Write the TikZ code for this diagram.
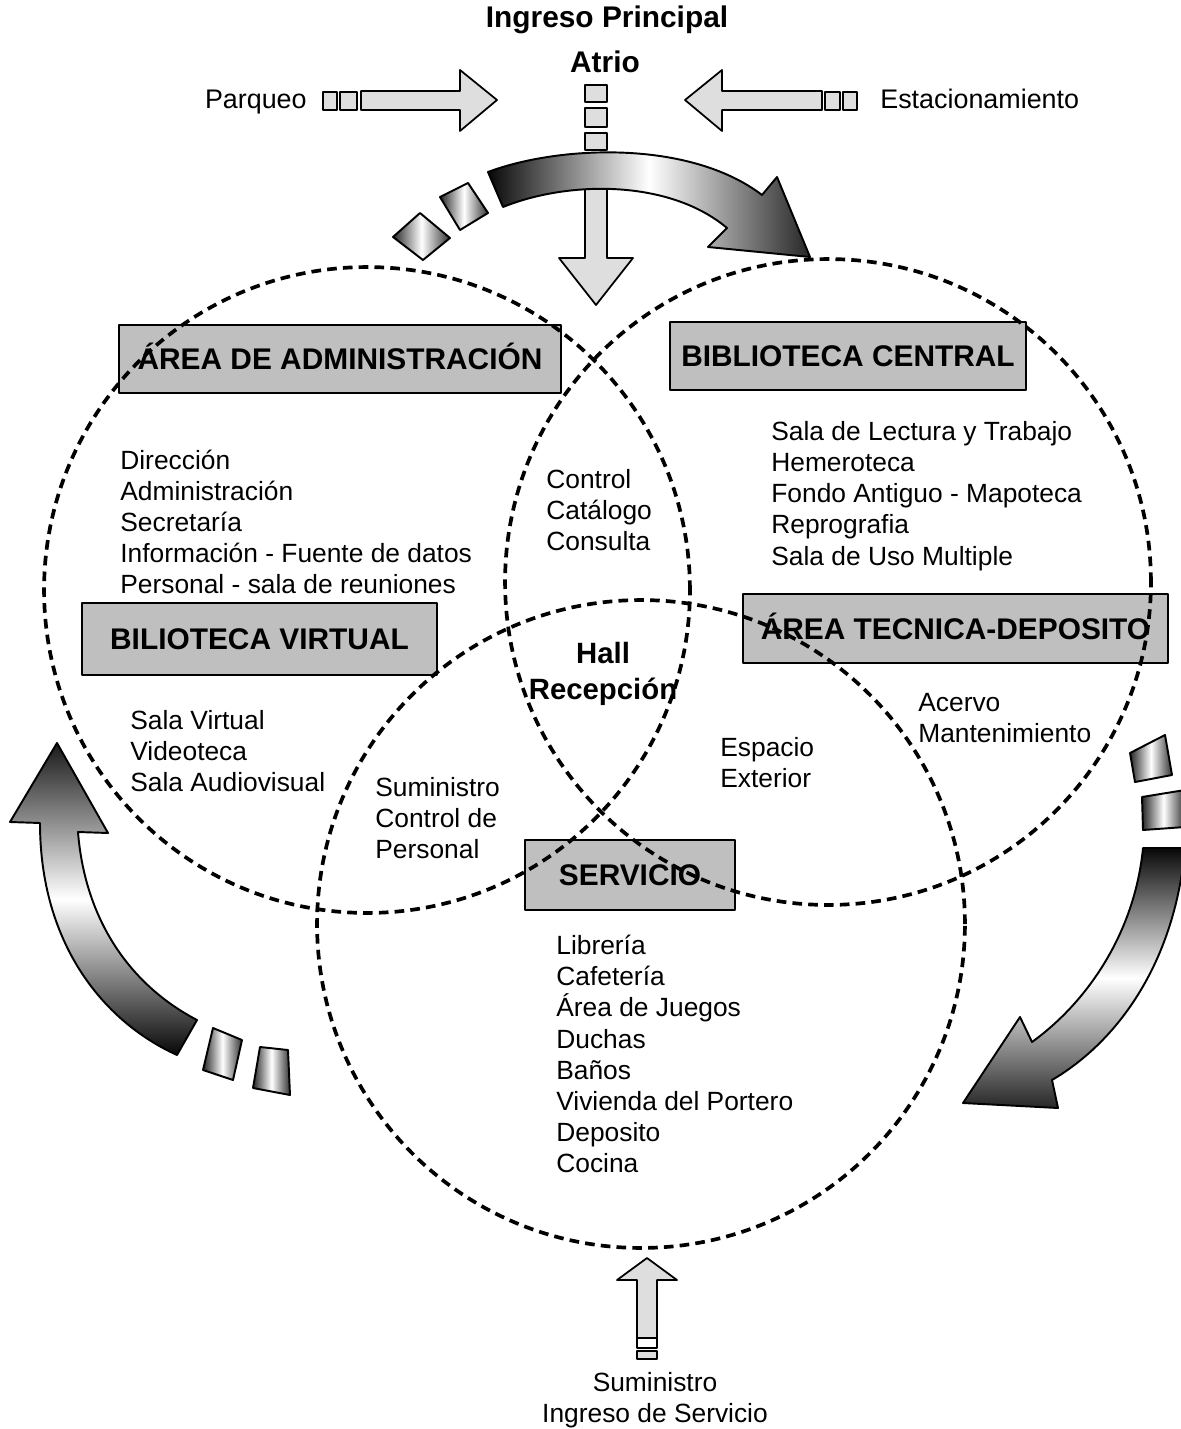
\documentclass[tikz,border=0pt]{standalone}
\usepackage{fontspec}
\setmainfont{Liberation Sans}
\begin{document}
\begin{tikzpicture}[x=0.02cm, y=-0.02cm, line join=round,
    zone/.style={circle, draw, line width=2.1pt, dash pattern=on 5.5pt off 3.5pt, inner sep=0pt},
    area/.style={draw, line width=1.1pt, fill=black!25, inner sep=0pt, text height=12.2pt, text depth=0pt,
      font=\fontsize{17}{20}\selectfont\bfseries},
    lst/.style={inner sep=0pt, anchor=west, align=left, font=\fontsize{15}{17.7}\selectfont},
    ttl/.style={inner sep=0pt, align=center, font=\fontsize{17}{20}\selectfont\bfseries},
    side/.style={inner sep=0pt, font=\fontsize{15.3}{18}\selectfont},
    blk/.style={draw, line width=1pt, fill=black!13},
    grad/.style={draw, line width=1.1pt}]
  \useasboundingbox (0,0) rectangle (1180,1429);
  \node[ttl] (ingreso) at (607,20) {Ingreso Principal};
  \node[ttl] (atrio) at (605,62) {Atrio};
  \node[side, anchor=base east] (parqueo) at (307,109) {Parqueo};
  \node[side, anchor=base west] (estac) at (880,109) {Estacionamiento};
  \draw[blk] (323,92) rectangle (337,110);
  \draw[blk] (340,92) rectangle (357,110);
  \draw[blk] (361,91) -- (460,91) -- (460,70) -- (497,100) -- (460,131) -- (460,110) -- (361,110) -- cycle;
  \draw[blk] (843,92) rectangle (857,110);
  \draw[blk] (825,92) rectangle (840,110);
  \draw[blk] (822,91) -- (722,91) -- (722,70) -- (685,100) -- (722,131) -- (722,110) -- (822,110) -- cycle;
  \draw[blk] (585,85) rectangle (607,102);
  \draw[blk] (585,108) rectangle (607,127);
  \draw[blk] (585,133) rectangle (607,150);
  \draw[blk] (585,154) -- (607,154) -- (607,258) -- (633,258) -- (596,305) -- (559,258) -- (585,258) -- cycle;
  \draw[grad, left color=black!97, right color=black!85, middle color=white]
    (488,172) .. controls (560,145) and (690,140) .. (762,195) -- (777,177) -- (810,257)
    -- (708,247) -- (727,228) .. controls (670,180) and (570,180) .. (503,207) -- cycle;
  \draw[grad, left color=black!85, right color=black!80, middle color=white]
    (393,237) -- (420,213) -- (450,238) -- (423,260) -- cycle;
  \draw[grad, left color=black!85, right color=black!80, middle color=white]
    (440,197) -- (468,183) -- (488,213) -- (460,230) -- cycle;
  \draw[grad, top color=black!90, bottom color=black!97, middle color=white]
    (57,743) -- (108,833) -- (78,832) .. controls (85,920) and (130,985) .. (197,1020)
    -- (177,1055) .. controls (100,1020) and (40,940) .. (40,823) -- (10,822) -- cycle;
  \draw[grad, left color=black!85, right color=black!80, middle color=white]
    (213,1028) -- (242,1040) -- (233,1080) -- (203,1070) -- cycle;
  \draw[grad, left color=black!85, right color=black!80, middle color=white]
    (260,1047) -- (288,1050) -- (290,1095) -- (253,1088) -- cycle;
  \draw[grad, left color=black!85, right color=black!80, middle color=white]
    (1130,753) -- (1165,735) -- (1172,775) -- (1135,782) -- cycle;
  \draw[grad, left color=black!85, right color=black!80, middle color=white]
    (1142,797) -- (1185,790) -- (1185,827) -- (1143,830) -- cycle;
  \draw[grad, top color=black!97, bottom color=black!85, middle color=white]
    (1143,848) -- (1185,848) .. controls (1175,960) and (1120,1040) .. (1052,1080)
    -- (1058,1108) -- (963,1103) -- (1020,1017) -- (1032,1042)
    .. controls (1090,1000) and (1135,930) .. (1143,848) -- cycle;
  \draw[blk] (637,1338) -- (637,1280) -- (617,1280) -- (647,1258) -- (677,1280) -- (657,1280) -- (657,1338) -- cycle;
  \draw[blk, fill=white] (637,1338) rectangle (657,1348);
  \draw[blk] (637,1351) rectangle (657,1359);
  \node[area, minimum width=8.84cm, minimum height=1.36cm] (adm) at (340,359) {ÁREA DE ADMINISTRACIÓN};
  \node[area, minimum width=7.12cm, minimum height=1.36cm] (bibc) at (848,356) {BIBLIOTECA CENTRAL};
  \node[area, minimum width=7.10cm, minimum height=1.44cm] (bibv) at (259.5,639) {BILIOTECA VIRTUAL};
  \node[area, minimum width=8.50cm, minimum height=1.38cm] (tec) at (955.5,628.5) {ÁREA TECNICA-DEPOSITO};
  \node[area, minimum width=4.20cm, minimum height=1.40cm] (serv) at (630,875) {SERVICIO};
  \node[zone, minimum size=12.92cm] (cAdm) at (367,590) {};
  \node[zone, minimum size=12.92cm] (cBib) at (828,582) {};
  \node[zone, minimum size=12.96cm] (cServ) at (641,924) {};
  \node[lst] (admL) at (120,522) {Dirección\\Administración\\Secretaría\\Información - Fuente de datos\\Personal - sala de reuniones};
  \node[lst] (ctrl) at (546,510) {Control\\Catálogo\\Consulta};
  \node[lst] (bibL) at (771,496) {Sala de Lectura y Trabajo\\Hemeroteca\\Fondo Antiguo - Mapoteca\\Reprografia\\Sala de Uso Multiple};
  \node[inner sep=0pt, align=center, font=\fontsize{16.7}{20.4}\selectfont\bfseries] (hall) at (603,674) {Hall\\Recepción};
  \node[lst] (virL) at (130,751) {Sala Virtual\\Videoteca\\Sala Audiovisual};
  \node[lst] (tecL) at (918,718) {Acervo\\Mantenimiento};
  \node[lst] (ext) at (720,763) {Espacio\\Exterior};
  \node[lst] (sumL) at (375,818) {Suministro\\Control de\\Personal};
  \node[lst] (servL) at (556,1054) {Librería\\Cafetería\\Área de Juegos\\Duchas\\Baños\\Vivienda del Portero\\Deposito\\Cocina};
  \node[side, align=center, font=\fontsize{15}{17.3}\selectfont] (ingS) at (655,1400) {Suministro\\Ingreso de Servicio};
\end{tikzpicture}
\end{document}
